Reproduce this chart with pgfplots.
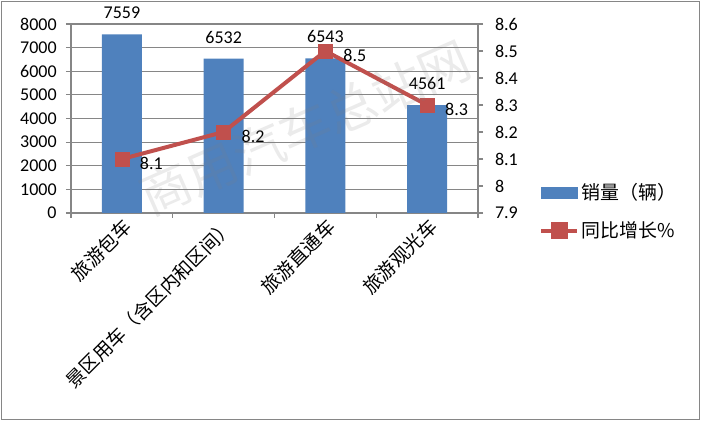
\documentclass[border=0pt]{standalone}
\usepackage{fontspec}
\setmainfont{Carlito}
\newfontfamily\cjk{Noto Sans CJK SC}
\usepackage{pgfplots}
\pgfplotsset{compat=1.18}
\definecolor{barblue}{HTML}{4F81BD}
\definecolor{linered}{HTML}{C0504D}
\definecolor{axgray}{HTML}{868686}
\newcommand\lblfont{\fontsize{13.5}{15}\selectfont}
\newcommand\cjkfont{\cjk\fontsize{14.2}{16}\selectfont}

\begin{document}
\begin{tikzpicture}
\useasboundingbox (0,0) rectangle (525.75pt,315.75pt);
\draw[axgray, line width=1pt] (1pt,1pt) rectangle (524.75pt,314.75pt);

% bars, left axis
\begin{axis}[
  at={(53.25pt,156pt)}, anchor=south west,
  scale only axis, width=305.25pt, height=141.75pt,
  xmin=-0.5, xmax=3.5, ymin=0, ymax=8000,
  ytick={0,1000,...,8000},
  axis x line*=bottom, axis y line*=left,
  axis line style={axgray, line width=0.8pt},
  ymajorgrids, grid style={axgray, line width=0.8pt},
  tick style={axgray, line width=0.8pt},
  tick align=outside, major tick length=3.75pt,
  xtick={-0.5,0.5,1.5,2.5,3.5}, xticklabels={},
  extra x ticks={0,1,2,3},
  extra x tick labels={旅游包车,景区用车（含区内和区间）,旅游直通车,旅游观光车},
  extra x tick style={major tick length=0pt,
    tick label style={font=\cjkfont, rotate=45, anchor=north east, inner sep=2pt}},
  ticklabel style={font=\lblfont},
  yticklabel style={xshift=-3.5pt},
  /pgf/number format/assume math mode=true,
  /pgf/number format/1000 sep={},
  ybar, bar width=30pt,
  nodes near coords,
  every node near coord/.append style={font=\lblfont, text=black, yshift=8pt},
]
\addplot[fill=barblue, draw=none] coordinates {(0,7559) (1,6532) (2,6543) (3,4561)};
\end{axis}

% growth line, right axis
\begin{axis}[
  at={(53.25pt,156pt)}, anchor=south west,
  scale only axis, width=305.25pt, height=141.75pt,
  xmin=-0.5, xmax=3.5, ymin=7.9, ymax=8.6,
  axis x line=none, axis y line*=right,
  axis line style={axgray, line width=0.8pt},
  tick style={axgray, line width=0.8pt},
  tick align=outside, major tick length=3.75pt,
  ytick={7.9,8,8.1,8.2,8.3,8.4,8.5,8.6},
  yticklabels={7.9,8,8.1,8.2,8.3,8.4,8.5,8.6},
  ticklabel style={font=\lblfont},
  yticklabel style={xshift=5.5pt},
  /pgf/number format/assume math mode=true,
  legend style={draw=none, fill=none, at={(1.14,0.185)}, anchor=north west,
    font=\cjkfont, row sep=11pt, cells={anchor=west}},
]
\addlegendimage{legend image code/.code={\fill[barblue] (0pt,-4pt) rectangle (27pt,4pt);}}
\addlegendentry{销量（辆）}
\addplot[linered, line width=3pt, mark=square*,
  mark options={solid, line width=0.4pt}, mark size=5.25pt,
  nodes near coords,
  every node near coord/.append style={anchor=west, xshift=10pt, yshift=-3pt,
    text=black, font=\lblfont},
  legend image code/.code={
    \draw[linered, line width=3pt] (0pt,0pt) -- (27pt,0pt);
    \fill[linered] (8.5pt,-5pt) rectangle (18.5pt,5pt);}
] coordinates {(0,8.1) (1,8.2) (2,8.5) (3,8.3)};
\addlegendentry{同比增长\%}
\end{axis}

\node[rotate=23.7, text=gray, opacity=0.16, font=\cjk\fontsize{38}{38}\selectfont]
  at (228.75pt,219.75pt) {商用汽车总站网};
\end{tikzpicture}
\end{document}
